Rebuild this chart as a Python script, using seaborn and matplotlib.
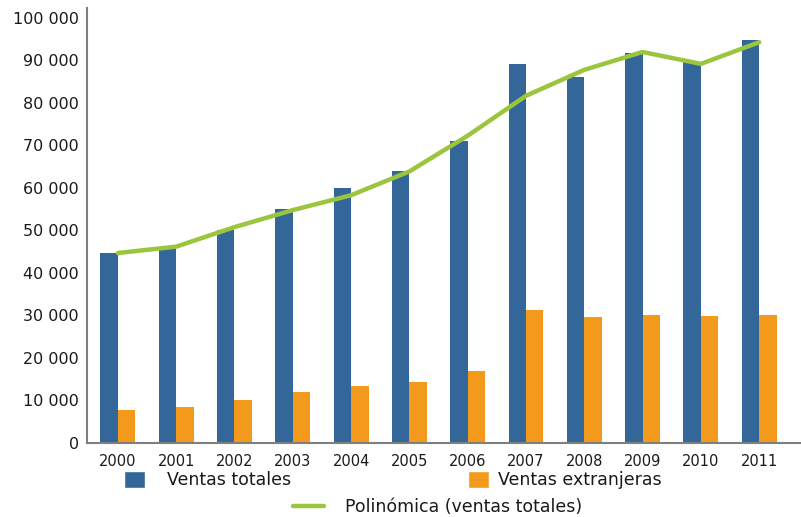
import numpy as np
import pandas as pd
import matplotlib
matplotlib.use("Agg")
import matplotlib.pyplot as plt
from matplotlib.patches import Patch
from matplotlib.lines import Line2D
from matplotlib.ticker import FuncFormatter
import seaborn as sns

# Sales data by year
years = ["2000", "2001", "2002", "2003", "2004", "2005",
         "2006", "2007", "2008", "2009", "2010", "2011"]
ventas_totales = [44700, 46000, 50000, 55100, 60000, 63900,
                  71000, 89200, 86200, 91700, 89700, 94900]
ventas_extranjeras = [7800, 8400, 10200, 12000, 13400, 14300,
                      17000, 31200, 29600, 30200, 29800, 30000]
polinomica = [44700, 46200, 50800, 54800, 58300, 63900,
              72300, 81700, 87800, 92000, 89200, 94300]

serie_totales = "Ventas totales"
serie_extranjeras = "Ventas extranjeras"
serie_poly = "Polinómica (ventas totales)"

BLUE = "#336699"
ORANGE = "#F39A1C"
GREEN = "#9BC53D"
GREY = "#7F7F7F"
TEXT = "#1a1a1a"

df = pd.DataFrame({
    "year": years * 2,
    "value": ventas_totales + ventas_extranjeras,
    "serie": [serie_totales] * len(years) + [serie_extranjeras] * len(years),
})

sns.set_theme(style="white")
plt.rcParams["font.family"] = ["DejaVu Sans"]

fig = plt.figure(figsize=(8.01, 5.17), dpi=100)
ax = fig.add_axes([87 / 801, 74 / 517, 713 / 801, 435 / 517])

sns.barplot(data=df, x="year", y="value", hue="serie",
            palette=[BLUE, ORANGE], width=0.6, gap=0,
            saturation=1, linewidth=0, ax=ax, legend=False)

sns.lineplot(x=np.arange(len(years)), y=polinomica, color=GREEN,
             linewidth=3.2, ax=ax, legend=False)

ax.set_xlim(-0.53, 11.70)
ax.set_ylim(0, 102350)
ax.set_yticks(np.arange(0, 100001, 10000))
ax.yaxis.set_major_formatter(
    FuncFormatter(lambda v, p: f"{int(v):,}".replace(",", " ")))
ax.set_xlabel("")
ax.set_ylabel("")

ax.tick_params(axis="y", length=0, pad=6, labelsize=11.5, colors=TEXT)
ax.tick_params(axis="x", length=0, pad=8, labelsize=10.5, colors=TEXT)

for side in ("top", "right"):
    ax.spines[side].set_visible(False)
for side in ("left", "bottom"):
    ax.spines[side].set_color(GREY)
    ax.spines[side].set_linewidth(1.5)

# Legend entries placed individually below the axis
leg_kw = dict(frameon=False, fontsize=12.5, labelcolor=TEXT,
              handlelength=1.2, handleheight=1.1, borderpad=0,
              borderaxespad=0)
fig.legend(handles=[Patch(facecolor=BLUE, label=serie_totales)],
           loc="center left", bbox_to_anchor=(124 / 801, 1 - 480 / 517),
           handletextpad=1.3, **leg_kw)
fig.legend(handles=[Patch(facecolor=ORANGE, label=serie_extranjeras)],
           loc="center left", bbox_to_anchor=(468 / 801, 1 - 480 / 517),
           handletextpad=0.5, **leg_kw)
fig.legend(handles=[Line2D([], [], color=GREEN, linewidth=3.2, label=serie_poly)],
           loc="center left", bbox_to_anchor=(293 / 801, 1 - 507 / 517),
           frameon=False, fontsize=12.5, labelcolor=TEXT, handlelength=1.8,
           handletextpad=1.2, borderpad=0, borderaxespad=0)

fig.savefig("out.png", dpi=100)
